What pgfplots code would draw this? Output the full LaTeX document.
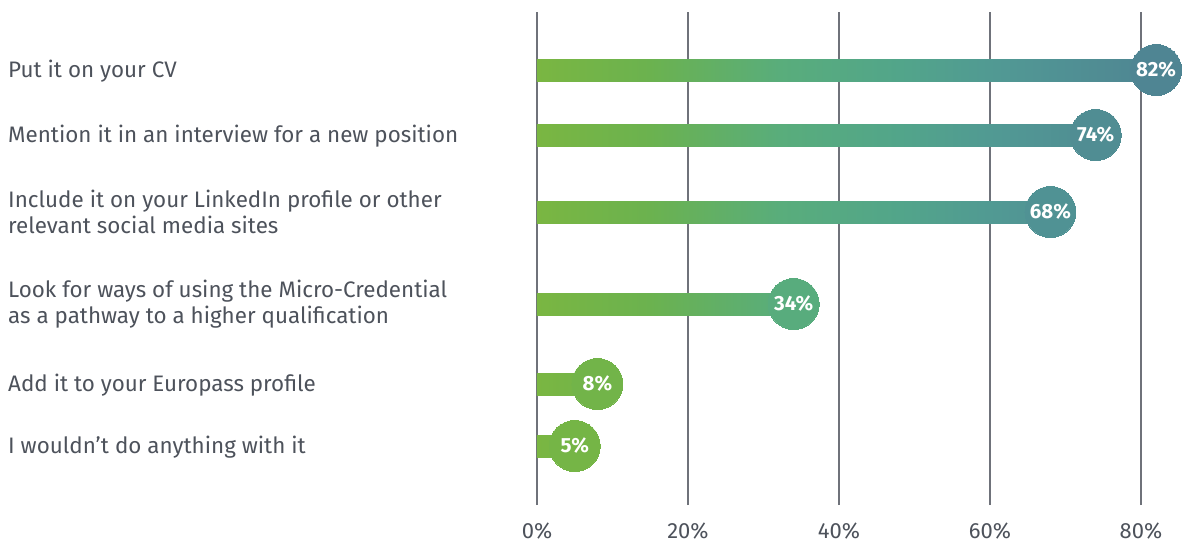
\documentclass[border=0pt]{standalone}
\usepackage{fontspec}
\setmainfont{Fira Sans}
\usepackage{pgfplots}
\pgfplotsset{compat=1.18}
\definecolor{txt}{HTML}{4D525B}
\definecolor{gridc}{HTML}{6F727A}
\definecolor{c0}{RGB}{122,182,66}
\definecolor{c15}{RGB}{107,178,79}
\definecolor{c32}{RGB}{89,173,123}
\definecolor{c48}{RGB}{82,165,138}
\definecolor{c62}{RGB}{81,152,148}
\definecolor{c82}{RGB}{79,133,147}
\definecolor{c74}{RGB}{80,141,147}
\definecolor{c68}{RGB}{80,146,148}
\definecolor{c34}{RGB}{88,172,125}
\definecolor{c8}{RGB}{114,180,73}
\definecolor{c5}{RGB}{117,181,70}
\pgfdeclarehorizontalshading{barA}{100bp}{color(0bp)=(c0); color(25bp)=(c0); color(34.15bp)=(c15); color(44.51bp)=(c32); color(54.27bp)=(c48); color(62.8bp)=(c62); color(75bp)=(c82); color(100bp)=(c82)}
\pgfdeclarehorizontalshading{barB}{100bp}{color(0bp)=(c0); color(25bp)=(c0); color(35.14bp)=(c15); color(46.62bp)=(c32); color(57.43bp)=(c48); color(66.89bp)=(c62); color(75bp)=(c74); color(100bp)=(c74)}
\pgfdeclarehorizontalshading{barC}{100bp}{color(0bp)=(c0); color(25bp)=(c0); color(36.03bp)=(c15); color(48.53bp)=(c32); color(60.29bp)=(c48); color(70.59bp)=(c62); color(75bp)=(c68); color(100bp)=(c68)}
\pgfdeclarehorizontalshading{barD}{100bp}{color(0bp)=(c0); color(25bp)=(c0); color(47.06bp)=(c15); color(72.06bp)=(c32); color(75bp)=(c34); color(100bp)=(c34)}
\pgfdeclarehorizontalshading{barE}{100bp}{color(0bp)=(c0); color(25bp)=(c0); color(75bp)=(c8); color(100bp)=(c8)}
\pgfdeclarehorizontalshading{barF}{100bp}{color(0bp)=(c0); color(25bp)=(c0); color(75bp)=(c5); color(100bp)=(c5)}
\begin{document}
\begin{tikzpicture}
\useasboundingbox (0,0) rectangle (1183pt,-542pt);
\begin{axis}[
  at={(537pt,-505pt)}, anchor=south west,
  x=7.55pt, y=1pt,
  xmin=0, xmax=85.4, ymin=-505, ymax=-12,
  clip=false,
  axis line style={draw=none},
  tick style={draw=none},
  xmajorgrids,
  grid style={gridc, line width=1.3pt},
  xtick={0,20,40,60,80},
  xticklabels={0\%,20\%,40\%,60\%,80\%},
  ytick=\empty,
  /pgf/number format/assume math mode=true,
  x tick label style={font=\fontsize{22}{26}\selectfont, text=txt, anchor=base, yshift=-33pt},
  bubble/.style={only marks, color=#1, mark=*, mark size=25.5pt,
    mark options={draw=#1, fill=#1, line width=0pt},
    point meta=x,
    nodes near coords={\pgfmathprintnumber{\pgfplotspointmeta}\%},
    nodes near coords style={anchor=center, text=white, font=\bfseries\fontsize{20.5}{23}\selectfont}},
  hbar/.style={xbar, bar width=22pt, draw=none, shading=#1},
]
\addplot[hbar=barA] coordinates {(82,-70)};
\addplot[hbar=barB] coordinates {(74,-135)};
\addplot[hbar=barC] coordinates {(68,-212)};
\addplot[hbar=barD] coordinates {(34,-304)};
\addplot[hbar=barE] coordinates {(8,-384)};
\addplot[hbar=barF] coordinates {(5,-446)};
\addplot[bubble=c82] coordinates {(82,-70)};
\addplot[bubble=c74] coordinates {(74,-135)};
\addplot[bubble=c68] coordinates {(68,-212)};
\addplot[bubble=c34] coordinates {(34,-304)};
\addplot[bubble=c8] coordinates {(8,-384)};
\addplot[bubble=c5] coordinates {(5,-446)};
\tikzset{cat/.style={anchor=west, align=left, text=txt, inner sep=0pt, font=\fontsize{22.4}{26}\selectfont}}
\node[cat] at ([xshift=-529pt,yshift=-1pt]axis cs:0,-70) {Put it on your CV};
\node[cat] at ([xshift=-529pt,yshift=-1pt]axis cs:0,-135) {Mention it in an interview for a new position};
\node[cat] at ([xshift=-529pt]axis cs:0,-212) {Include it on your LinkedIn profile or other\\relevant social media sites};
\node[cat] at ([xshift=-529pt]axis cs:0,-304) {Look for ways of using the Micro-Credential\\as a pathway to a higher qualification};
\node[cat] at ([xshift=-529pt,yshift=-1pt]axis cs:0,-384) {Add it to your Europass profile};
\node[cat] at ([xshift=-529pt,yshift=-1pt]axis cs:0,-446) {I wouldn’t do anything with it};
\end{axis}
\end{tikzpicture}
\end{document}
